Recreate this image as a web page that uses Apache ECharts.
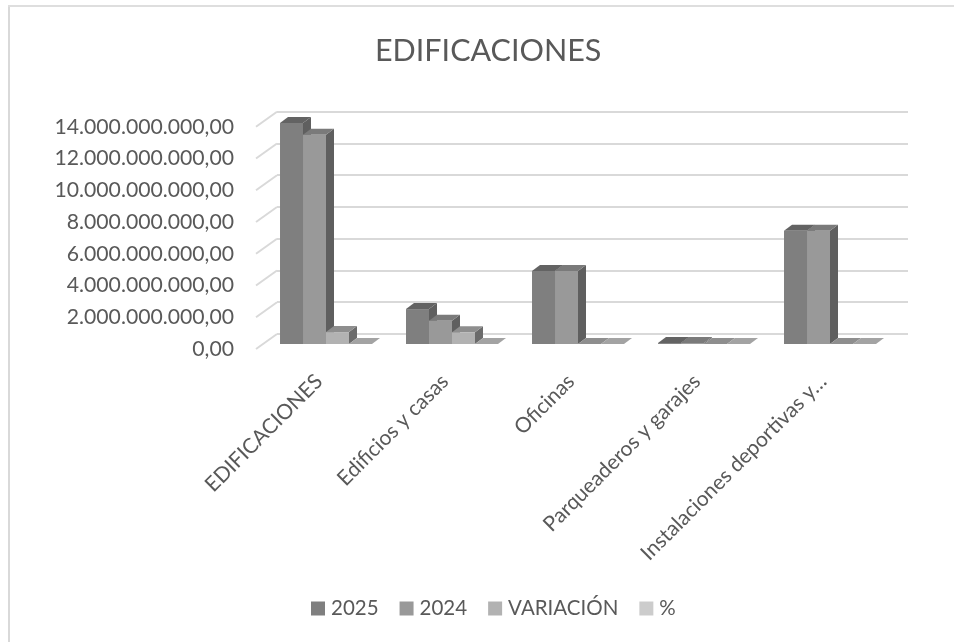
<!DOCTYPE html>
<html><head><meta charset="utf-8">
<style>html,body{margin:0;padding:0;background:#fff}#c{width:954px;height:642px}</style>
<script src="https://cdn.jsdelivr.net/npm/echarts@6/dist/echarts.min.js"></script>
</head><body><div id="c"></div>
<script>
const categories=['EDIFICACIONES','Edificios y casas','Oficinas','Parqueaderos y garajes','Instalaciones deportivas y…'];
const values2025=[13920000000,2200000000,4600000000,60000000,7130000000];
const values2024=[13180000000,1470000000,4600000000,60000000,7130000000];
const valuesVariacion=[750000000,740000000,0,0,0];
const valuesPct=[0,0,0,0,0];
const yTicks=[0,2e9,4e9,6e9,8e9,10e9,12e9,14e9];
const seriesNames=['2025','2024','VARIACIÓN','%'];
const front=['#7f7f7f','#999999','#b2b2b2','#cccccc'];
const top_=['#636363','#7a7a7a','#8e8e8e','#a3a3a3'];
const side=['#5f5f5f','#5f5f5f','#6b6b6b','#7a7a7a'];
const allValues=[values2025,values2024,valuesVariacion,valuesPct];
const fmt=v=>{const s=Math.round(v).toString().replace(/\B(?=(\d{3})+$)/g,'.');return s+',00';};
function bar3d(si){
  return function(params,api){
    const idx=api.value(0),val=api.value(1);
    const c=api.coord([idx,0]),t=api.coord([idx,val]);
    const cw=api.size([1,0])[0],w=cw*0.1825;
    const ox=7,oy=-5,dx=8,dy=-6;
    const x0=c[0]-2*w+si*w+ox,x1=x0+w,yb=c[1]+oy,yt=t[1]+oy;
    const poly=(pts,fill)=>({type:'polygon',shape:{points:pts},style:{fill:fill}});
    const ch=[];
    ch.push(poly([[x1,yt],[x1+dx,yt+dy],[x1+dx,yb+dy],[x1,yb]],side[si]));
    ch.push(poly([[x0,yt],[x0+dx,yt+dy],[x1+dx,yt+dy],[x1,yt]],top_[si]));
    if(yb-yt>0.5)ch.push({type:'rect',shape:{x:x0,y:yt,width:w,height:yb-yt},style:{fill:front[si]}});
    return {type:'group',children:ch};
  };
}
const chart=echarts.init(document.getElementById('c'),null,{renderer:'canvas'});
const series=seriesNames.map((n,si)=>({
  name:n,type:'custom',xAxisIndex:0,yAxisIndex:0,z:5,
  itemStyle:{color:front[si]},
  encode:{x:0,y:1},
  data:categories.map((c,i)=>[i,allValues[si][i]]),
  renderItem:bar3d(si)
}));
series.unshift({
  type:'custom',xAxisIndex:0,yAxisIndex:0,z:1,silent:true,legendHoverLink:false,
  data:yTicks.map(v=>[v]),
  encode:{y:0},
  renderItem:function(p,api){
    const a=api.coord([0,api.value(0)]);
    const x=a[0]-api.size([1,0])[0]/2;
    return {type:'line',shape:{x1:x,y1:a[1],x2:x+21,y2:a[1]-15},style:{stroke:'#d9d9d9',lineWidth:2,fill:null}};
  }
});
chart.setOption({
  animation:false,
  backgroundColor:'#fff',
  title:{text:'EDIFICACIONES',left:370,top:31,textStyle:{fontFamily:'Lato',fontSize:30.5,fontWeight:'normal',color:'#595959'}},
  legend:{data:seriesNames,bottom:18,left:306,itemWidth:14,itemHeight:14,itemGap:21,icon:'rect',
    textStyle:{fontFamily:'Lato',fontSize:20.5,color:'#595959',padding:[0,0,0,1]}},
  grid:[
    {left:256,top:126.7,width:630,height:222.3},
    {left:277,top:111.7,width:631,height:222.3}
  ],
  xAxis:[
    {type:'category',gridIndex:0,data:categories,axisLine:{show:false},axisTick:{show:false},
     axisLabel:{interval:0,rotate:45,margin:29,fontFamily:'Lato',fontSize:21,color:'#595959'}},
    {type:'category',gridIndex:1,data:categories,show:false}
  ],
  yAxis:[
    {type:'value',gridIndex:0,min:0,max:14e9,interval:2e9,axisLine:{show:false},axisTick:{show:false},splitLine:{show:false},
     axisLabel:{margin:22,fontFamily:'Lato',fontSize:21.2,color:'#595959',formatter:fmt,padding:[4,0,0,0]}},
    {type:'value',gridIndex:1,min:0,max:14e9,interval:2e9,axisLine:{show:false},axisTick:{show:false},axisLabel:{show:false},
     splitLine:{show:true,lineStyle:{color:'#d9d9d9',width:2}}}
  ],
  graphic:[
    {type:'rect',z:-1,shape:{x:8,y:5,width:2,height:637},style:{fill:'#d9d9d9'}},
    {type:'rect',z:-1,shape:{x:8,y:5,width:946,height:2},style:{fill:'#dedede'}}
  ],
  series:series
});
</script></body></html>
